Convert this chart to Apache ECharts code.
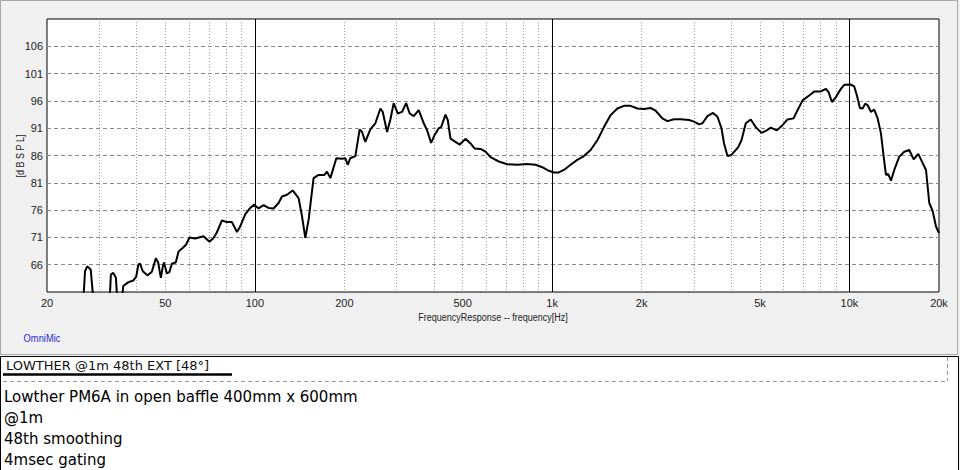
<!DOCTYPE html>
<html>
<head>
<meta charset="utf-8">
<script src="https://cdn.jsdelivr.net/npm/echarts@6/dist/echarts.min.js"></script>
<style>
  html, body { margin: 0; padding: 0; background: #f0f0f0; }
  #chart { width: 960px; height: 470px; }
</style>
</head>
<body>
<div id="chart"></div>
<script>
const freqHz = [26.4, 26.85, 27.3, 28.06, 28.8, 32.4, 32.8, 33.4, 34.1, 34.6,
  35.5, 36.1, 37.6, 39.0, 39.9, 40.6, 41.1, 42.0, 43.5, 45.0, 46.5, 47.3, 48.3, 49.05, 49.5,
  50.6, 51.6, 52.6, 54.2, 55.4, 57.3, 58.75, 60.3, 63.0, 67.2, 70.4, 72.6, 74.5, 77.5, 80.6,
  83.75, 87.1, 89.3, 92.8, 96.5, 99.5, 102.9, 107, 111.2, 115.6, 120.2, 123.4, 128.3, 134,
  140.35, 144.1, 147.8, 151.7, 157.6, 163.9, 171.3, 174.9, 179.5, 188, 196.5, 201.6, 205.2,
  209.5, 217.8, 225.2, 229.4, 235.3, 244.6, 254.3, 264.4, 269.2, 278.5, 285.7, 293.1, 302.3,
  312.8, 322.7, 331.8, 342.3, 355.8, 369.9, 379.8, 391.7, 401.8, 415.5, 423.3, 437.7, 445.5,
  455, 472.9, 489, 511.1, 531.3, 548.1, 574.2, 596.8, 620.5, 661.5, 706.1, 763.1, 824.6,
  879.4, 926.4, 975, 1013.5, 1053.5, 1095.3, 1153.5, 1215.2, 1278.9, 1347.1, 1418.8, 1493.5,
  1573, 1656.9, 1743.8, 1836.7, 1934.3, 2035.8, 2144.2, 2228.9, 2348, 2440.7, 2569.2, 2706.1,
  2886.2, 3000.4, 3118.8, 3202.4, 3328.6, 3476.3, 3597, 3710.4, 3785.6, 3887.2, 4009, 4219.1,
  4332.4, 4479.6, 4656.2, 4839.8, 5058.6, 5230.3, 5436.6, 5695.4, 5953.1, 6189.3, 6484.2,
  6687.8, 6953.3, 7317.4, 7606.5, 7968.9, 8329.1, 8505.2, 8725.8, 9001.6, 9354.7, 9597.7,
  10109, 10372, 10592, 10840, 11070, 11297, 11508, 11805, 12113, 12436, 12758, 13028, 13262,
  13502, 13788, 14144, 14702, 15285, 15887, 16439, 17036, 17627, 18084, 18551, 19048, 19541,
  20000];
const splDb = [58, 64.8, 65.7, 65.1, 58, 58, 64.2, 64.5, 63.6, 58,
  58, 62.1, 62.8, 63.1, 63.8, 66.05, 66.2, 64.8, 64.05, 64.65, 67.2, 66.4, 63.6, 65.7, 66.4,
  64.4, 64.65, 66.2, 66.4, 68.4, 69.1, 69.7, 71.0, 70.8, 71.2, 70.2, 70.9, 71.9, 74.1, 73.8,
  73.8, 72.0, 73.0, 75.2, 76.4, 77.0, 76.3, 76.9, 76.4, 76.3, 77.3, 78.5, 78.8, 79.6,
  78.2, 74.9, 70.9, 74.25, 81.85, 82.45, 82.45, 83.05, 81.85, 85.5, 85.4, 85.5, 84.3,
  85.5, 85.9, 90.8, 90.3, 88.5, 90.8, 91.9, 94.6, 94.0, 90.3, 92.6, 95.6, 93.7,
  94.0, 95.6, 93.7, 93.2, 94.3, 91.9, 90.6, 88.3, 89.7, 91.0, 91.2, 93.5, 92.5,
  89.1, 88.5, 88.0, 89.05, 88.2, 87.3, 87.2, 86.7, 85.7, 84.9, 84.4, 84.3, 84.45,
  84.3, 83.85, 83.2, 82.9, 82.9, 83.35, 84.3, 85.2, 85.9, 87.0, 88.8, 91.2,
  93.4, 94.6, 95.1, 95.1, 94.6, 94.5, 94.7, 94.2, 92.8, 92.3, 92.65, 92.65,
  92.5, 92.2, 91.7, 91.9, 93.2, 93.8, 93.1, 91.0, 88.2, 85.9, 86.1, 87.5,
  88.8, 91.9, 92.6, 91.2, 90.15, 90.5, 91.1, 90.6, 91.55, 92.6, 92.8,
  94.3, 96.1, 97.0, 97.7, 97.7, 98.2, 97.6, 95.8, 96.7, 98.2, 98.95,
  99.0, 98.65, 97.0, 94.7, 94.6, 95.5, 95.2, 94.0, 94.4, 92.8, 90.05, 85.8, 82.45,
  82.6, 81.4, 83.35, 85.8, 86.7, 87.0, 85.3, 86.3, 84.6, 83.35, 77.3, 75.8, 73.0,
  71.8];

const xLabelTicks = [20, 50, 100, 200, 500, 1000, 2000, 5000, 10000, 20000];
const xMinorGrid = [30, 40, 50, 60, 70, 80, 90, 200, 300, 400, 500, 600, 700, 800, 900,
  2000, 3000, 4000, 5000, 6000, 7000, 8000, 9000];
const xDecadeGrid = [100, 1000, 10000];
const yTicks = [66, 71, 76, 81, 86, 91, 96, 101, 106];

const xTitle = 'FrequencyResponse -- frequency[Hz]';
const yTitle = '[d B S P L]';
const noteTitle = 'LOWTHER @1m 48th EXT [48°]';
const noteLines = ['Lowther PM6A in open baffle 400mm x 600mm', '@1m', '48th smoothing', '4msec gating'];

const narrow = "'Liberation Sans Narrow', 'Liberation Sans', sans-serif";
const body = "'DejaVu Sans', sans-serif";

const chart = echarts.init(document.getElementById('chart'), null, { renderer: 'svg' });

chart.setOption({
  backgroundColor: '#f0f0f0',
  animation: false,
  grid: {
    left: 47, right: 21, top: 19, bottom: 178,
    show: true, backgroundColor: '#fff', borderColor: '#000', borderWidth: 1
  },
  xAxis: [{
    type: 'log', logBase: 10, min: 20, max: 20000,
    axisLine: { show: false },
    axisTick: { show: false, customValues: xMinorGrid },
    axisLabel: {
      customValues: xLabelTicks, margin: 5,
      fontFamily: narrow, fontSize: 11, color: '#222',
      formatter: v => v >= 1000 ? (v / 1000) + 'k' : String(v)
    },
    splitLine: { show: true, lineStyle: { color: '#9a9a9a', type: [1, 2], width: 1 } }
  }, {
    type: 'log', logBase: 10, min: 20, max: 20000,
    position: 'bottom',
    axisLine: { show: false },
    axisTick: { show: false, customValues: xDecadeGrid },
    axisLabel: { show: false },
    splitLine: { show: true, lineStyle: { color: '#000', width: 1 } }
  }],
  yAxis: {
    type: 'value', min: 61, max: 111,
    axisLine: { show: false },
    axisTick: { show: false, customValues: yTicks },
    axisLabel: { customValues: yTicks, margin: 4, fontFamily: narrow, fontSize: 11, color: '#222' },
    splitLine: { show: true, lineStyle: { color: '#8a8a8a', type: [4, 3], width: 1 } }
  },
  series: [{
    type: 'line',
    xAxisIndex: 0,
    data: freqHz.map((f, i) => [f, splDb[i]]),
    showSymbol: false,
    clip: true,
    lineStyle: { color: '#000', width: 2 },
    z: 5
  }],
  graphic: [
    { type: 'rect', shape: { x: 0.5, y: 0.5, width: 957, height: 354 },
      style: { fill: 'none', stroke: '#a8a8a8', lineWidth: 1 }, silent: true },
    // axis titles drawn by hand so they can be squeezed like the original narrow font
    { type: 'text', x: 493, y: 317, scaleX: 0.82,
      style: { text: xTitle, fill: '#222', font: '11px ' + narrow, align: 'center', verticalAlign: 'middle' } },
    { type: 'text', x: 20, y: 156, rotation: Math.PI / 2, scaleX: 0.9,
      style: { text: yTitle, fill: '#222', font: '10px ' + narrow, align: 'center', verticalAlign: 'middle' } },
    { type: 'text', x: 42, y: 338, scaleX: 0.85,
      style: { text: 'OmniMic', fill: '#2b2bd6', font: '11px ' + narrow, align: 'center', verticalAlign: 'middle' } },
    { type: 'rect', shape: { x: 0.5, y: 356.5, width: 958, height: 120 },
      style: { fill: '#fff', stroke: '#000', lineWidth: 1 }, silent: true },
    { type: 'text', left: 6, top: 359,
      style: { text: noteTitle, fill: '#111', font: '13px ' + body } },
    { type: 'line', shape: { x1: 3, y1: 374.5, x2: 232, y2: 374.5 },
      style: { stroke: '#000', lineWidth: 2.5 } },
    { type: 'line', shape: { x1: 3, y1: 381.5, x2: 948, y2: 381.5 },
      style: { stroke: '#999', lineWidth: 1, lineDash: [4, 3] } },
    { type: 'line', shape: { x1: 947.5, y1: 357, x2: 947.5, y2: 381 },
      style: { stroke: '#999', lineWidth: 1, lineDash: [4, 3] } },
    ...noteLines.map((t, i) => ({
      type: 'text', left: 4, top: 389 + i * 21,
      style: { text: t, fill: '#000', font: '15px ' + body }
    }))
  ]
});
</script>
</body>
</html>
